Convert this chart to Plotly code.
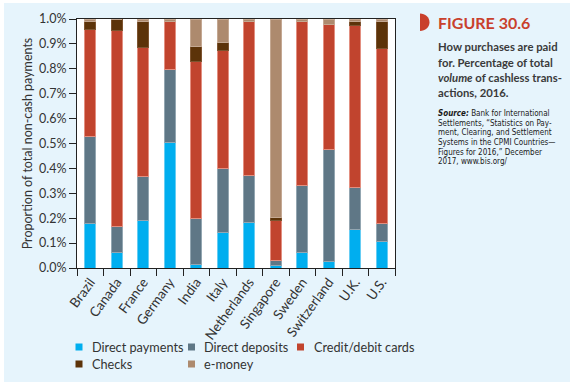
import plotly.graph_objects as go

countries = ["Brazil", "Canada", "France", "Germany", "India", "Italy",
             "Netherlands", "Singapore", "Sweden", "Switzerland", "U.K.", "U.S."]
direct_payments = [0.178, 0.062, 0.189, 0.504, 0.016, 0.142, 0.184, 0.009, 0.062, 0.025, 0.155, 0.108]
direct_deposits = [0.351, 0.105, 0.177, 0.293, 0.182, 0.256, 0.188, 0.020, 0.268, 0.451, 0.169, 0.070]
credit_debit    = [0.428, 0.786, 0.519, 0.194, 0.631, 0.475, 0.619, 0.162, 0.661, 0.501, 0.649, 0.703]
checks          = [0.034, 0.047, 0.106, 0.000, 0.060, 0.032, 0.000, 0.012, 0.000, 0.000, 0.018, 0.110]
e_money         = [0.009, 0.000, 0.009, 0.009, 0.111, 0.095, 0.009, 0.797, 0.009, 0.023, 0.009, 0.009]
y_ticks = [0.0, 0.1, 0.2, 0.3, 0.4, 0.5, 0.6, 0.7, 0.8, 0.9, 1.0]

W, H = 573, 385
ML, MR, MT, MB = 77, 178, 19, 117
PW, PH = W - ML - MR, H - MT - MB

def xp(px):
    return (px - ML) / PW

def yp(py):
    return (H - MB - py) / PH

FONT = "Lato, Roboto, 'Open Sans', sans-serif"
NARROW = "'Liberation Sans Narrow', 'DejaVu Sans Condensed', 'Roboto Condensed', 'Liberation Sans', sans-serif"

series = [
    ("Direct payments", direct_payments, "#00aeef", "#66cdf4"),
    ("Direct deposits", direct_deposits, "#5f7786", "#93a6b1"),
    ("Credit/debit cards", credit_debit, "#c1442e", "#e38f80"),
    ("Checks", checks, "#5c3309", "#7d5430"),
    ("e-money", e_money, "#ad8a6e", "#c4a892"),
]

fig = go.Figure()
for name, vals, col, edge in series:
    fig.add_trace(go.Bar(
        x=countries, y=vals, name=name, showlegend=False,
        marker=dict(color=col, line=dict(color=edge, width=1)),
    ))

shapes = [
    dict(type="rect", xref="paper", yref="paper", x0=xp(4), x1=xp(570), y0=yp(382), y1=yp(3),
         fillcolor="#e6f4fc", line=dict(width=0), layer="below"),
    dict(type="rect", xref="paper", yref="paper", x0=0, x1=1, y0=0, y1=1,
         fillcolor="white", line=dict(width=0), layer="below"),
]
# D-shaped figure marker
x0, x1, ya, yb = 420, 429.5, 13.5, 31
yc = (ya + yb) / 2
k = 0.5523
a = x1 - x0
b = (yb - ya) / 2
path = (f"M{xp(x0)},{yp(ya)} "
        f"C{xp(x0 + k * a)},{yp(ya)} {xp(x1)},{yp(yc - k * b)} {xp(x1)},{yp(yc)} "
        f"C{xp(x1)},{yp(yc + k * b)} {xp(x0 + k * a)},{yp(yb)} {xp(x0)},{yp(yb)} Z")
shapes.append(dict(type="path", xref="paper", yref="paper", path=path,
                   fillcolor="#c9402c", line=dict(width=0)))

TX = 436
annotations = [
    dict(text="<b>FIGURE 30.6</b>", x=xp(TX), y=yp(22.5), xref="paper", yref="paper",
         xanchor="left", yanchor="middle", showarrow=False,
         font=dict(family=FONT, size=16, color="#c9402c")),
]
desc = ["How purchases are paid", "for. Percentage of total",
        "<i>volume</i> of cashless trans-", "actions, 2016."]
desc_y = [47, 62, 77.5, 92.5]
for t, yy in zip(desc, desc_y):
    annotations.append(dict(text="<b>" + t + "</b>", x=xp(TX), y=yp(yy), xref="paper", yref="paper",
                            xanchor="left", yanchor="middle", showarrow=False,
                            font=dict(family=FONT, size=11.3, color="#3a3a3a")))
src = ["<b><i>Source:</i></b> Bank for International", "Settlements, \u201cStatistics on Pay-",
       "ment, Clearing, and Settlement", "Systems in the CPMI Countries\u2014",
       "Figures for 2016,\u201d December", "2017, www.bis.org/"]
src_y = [113.5, 123.3, 132.8, 142.5, 152, 161.3]
for t, yy in zip(src, src_y):
    annotations.append(dict(text=t, x=xp(TX), y=yp(yy), xref="paper", yref="paper",
                            xanchor="left", yanchor="middle", showarrow=False,
                            font=dict(family=NARROW, size=8, color="#1a1a1a")))

# legend (drawn as squares + labels)
leg_sq_x = [75.5, 188, 297, 75.5, 188]
leg_tx_x = [90, 202, 311.5, 90, 202]
leg_y = [347, 347, 347, 364, 364]
for (name, _, col, _), sx, tx, ly in zip(series, leg_sq_x, leg_tx_x, leg_y):
    shapes.append(dict(type="rect", xref="paper", yref="paper",
                       x0=xp(sx), x1=xp(sx + 7), y0=yp(ly + 3.5), y1=yp(ly - 3.5),
                       fillcolor=col, line=dict(width=0)))
    annotations.append(dict(text=name, x=xp(tx), y=yp(ly), xref="paper", yref="paper",
                            xanchor="left", yanchor="middle", showarrow=False,
                            font=dict(family=FONT, size=12.7, color="#333333")))

fig.update_layout(
    width=W, height=H,
    margin=dict(l=ML, r=MR, t=MT, b=MB, autoexpand=False),
    paper_bgcolor="white", plot_bgcolor="rgba(0,0,0,0)",
    barmode="stack", bargap=0.58,
    font=dict(family=FONT, size=12, color="#333333"),
    shapes=shapes, annotations=annotations,
    showlegend=False,
)
fig.update_xaxes(
    type="category", tickangle=-54, tickson="boundaries", ticks="outside", ticklen=7,
    tickcolor="#222222", showline=True, linecolor="#222222", linewidth=1, mirror=True,
    tickfont=dict(family=FONT, size=13.5, color="#333333"), automargin=False,
)
fig.update_yaxes(
    range=[0, 1.0], tickvals=y_ticks, ticktext=[f"{v:.1f}%" for v in y_ticks],
    ticks="outside", ticklen=7, tickcolor="#222222", showgrid=False, zeroline=False,
    showline=True, linecolor="#222222", linewidth=1, mirror=True,
    tickfont=dict(family=FONT, size=12.5, color="#333333"), automargin=False,
    title=dict(text="Proportion of total non-cash payments", standoff=3,
               font=dict(family=FONT, size=12.5, color="#333333")),
)

fig.write_html("out.html", config={"displayModeBar": False},
               post_script="document.body.style.margin='0';document.body.style.padding='0';")
